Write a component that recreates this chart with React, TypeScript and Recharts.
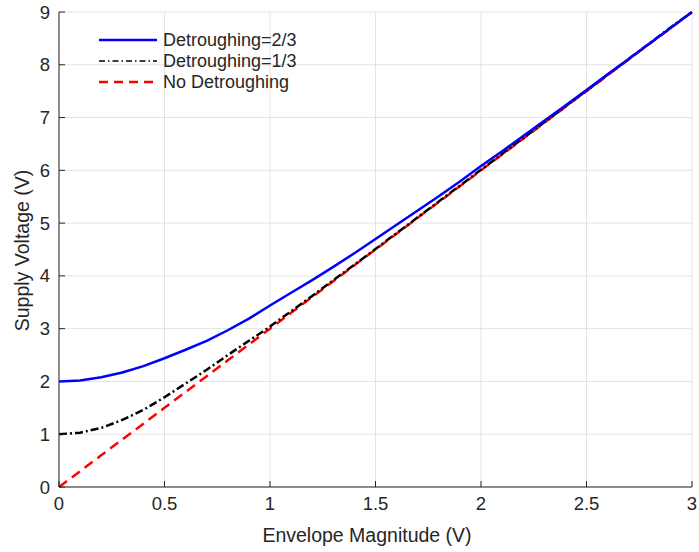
import React from "react";
import {
  LineChart,
  Line,
  XAxis,
  YAxis,
  CartesianGrid,
  Legend,
  Label,
} from "recharts";

// Envelope magnitude (V)
const envelope = [
  0, 0.1, 0.2, 0.3, 0.4, 0.5, 0.6, 0.7, 0.8, 0.9, 1.0, 1.1, 1.2, 1.3, 1.4, 1.5,
  1.6, 1.7, 1.8, 1.9, 2.0, 2.1, 2.2, 2.3, 2.4, 2.5, 2.6, 2.7, 2.8, 2.9, 3.0,
];

// Supply voltage (V)
const detrough23 = [
  2.0, 2.02, 2.08, 2.17, 2.29, 2.44, 2.6, 2.77, 2.97, 3.19, 3.44, 3.68, 3.92,
  4.17, 4.43, 4.7, 4.97, 5.24, 5.51, 5.79, 6.08, 6.36, 6.65, 6.94, 7.23, 7.52,
  7.82, 8.11, 8.41, 8.7, 9.0,
];
const detrough13 = [
  1.0, 1.03, 1.12, 1.27, 1.46, 1.7, 1.96, 2.22, 2.5, 2.77, 3.04, 3.33, 3.62,
  3.92, 4.21, 4.51, 4.81, 5.11, 5.41, 5.71, 6.01, 6.31, 6.61, 6.91, 7.21, 7.51,
  7.81, 8.11, 8.41, 8.71, 9.0,
];
const noDetrough = [
  0, 0.3, 0.6, 0.9, 1.2, 1.5, 1.8, 2.1, 2.4, 2.7, 3.0, 3.3, 3.6, 3.9, 4.2, 4.5,
  4.8, 5.1, 5.4, 5.7, 6.0, 6.3, 6.6, 6.9, 7.2, 7.5, 7.8, 8.1, 8.4, 8.7, 9.0,
];

const xTicks = [0, 0.5, 1, 1.5, 2, 2.5, 3];
const yTicks = [0, 1, 2, 3, 4, 5, 6, 7, 8, 9];

const legendItems = [
  { name: "Detroughing=2/3", color: "#0000ff", dash: undefined, width: 2.5 },
  { name: "Detroughing=1/3", color: "#000000", dash: "6 3 1.5 3", width: 1.5 },
  { name: "No Detroughing", color: "#ff0000", dash: "9 6", width: 2.5 },
];

const data = envelope.map((x, i) => ({
  x,
  d23: detrough23[i],
  d13: detrough13[i],
  none: noDetrough[i],
}));

const FONT = "'Liberation Sans', Arial, sans-serif";
const TEXT = "#262626";
const AXIS = "#262626";

function LegendBox() {
  return (
    <svg width={230} height={66} style={{ display: "block" }}>
      {legendItems.map((it, i) => {
        const y = 10 + i * 21;
        return (
          <g key={it.name}>
            <line
              x1={4}
              x2={62}
              y1={y}
              y2={y}
              stroke={it.color}
              strokeWidth={it.width}
              strokeDasharray={it.dash}
            />
            <text
              x={68}
              y={y}
              dy="0.35em"
              fontSize={18}
              fontFamily={FONT}
              fill={TEXT}
            >
              {it.name}
            </text>
          </g>
        );
      })}
    </svg>
  );
}

export default function App() {
  const tickStyle = { fontSize: 18.5, fontFamily: FONT, fill: TEXT };
  return (
    <div style={{ position: "absolute", left: 0, top: 0, background: "#fff" }}>
      <LineChart
        width={699}
        height={552}
        data={data}
        margin={{ top: 12, right: 7, left: 0, bottom: 25 }}
      >
        <CartesianGrid stroke="#e3e3e3" strokeWidth={1} />
        <XAxis
          dataKey="x"
          type="number"
          domain={[0, 3]}
          ticks={xTicks}
          height={40}
          stroke={AXIS}
          tickSize={-6}
          tickMargin={16}
          tick={tickStyle}
        >
          <Label
            content={({ viewBox }: any) => (
              <text
                x={367}
                y={viewBox.y + 55}
                textAnchor="middle"
                fontSize={19.5}
                fontFamily={FONT}
                fill={TEXT}
              >
                Envelope Magnitude (V)
              </text>
            )}
          />
        </XAxis>
        <XAxis
          xAxisId="top"
          orientation="top"
          type="number"
          domain={[0, 3]}
          ticks={xTicks}
          height={0}
          stroke={AXIS}
          tickSize={-6}
          tick={false}
        />
        <YAxis
          type="number"
          domain={[0, 9]}
          ticks={yTicks}
          width={59}
          stroke={AXIS}
          tickSize={-6}
          tickMargin={15}
          tick={tickStyle}
        >
          <Label
            content={({ viewBox }: any) => {
              const cx = 22;
              const cy = viewBox.y + viewBox.height / 2 + 1;
              return (
                <text
                  x={cx}
                  y={cy}
                  dy="0.35em"
                  textAnchor="middle"
                  transform={`rotate(-90 ${cx} ${cy})`}
                  fontSize={19.5}
                  fontFamily={FONT}
                  fill={TEXT}
                >
                  Supply Voltage (V)
                </text>
              );
            }}
          />
        </YAxis>
        <YAxis
          yAxisId="right"
          orientation="right"
          type="number"
          domain={[0, 9]}
          ticks={yTicks}
          width={0}
          stroke={AXIS}
          tickSize={-6}
          tick={false}
        />
        <Legend
          content={() => <LegendBox />}
          verticalAlign="middle"
          align="center"
          layout="horizontal"
          wrapperStyle={{ top: 30, left: 95, width: 230 }}
        />
        <Line
          type="linear"
          dataKey="none"
          stroke="#ff0000"
          strokeWidth={2.5}
          strokeDasharray="10 6"
          dot={false}
          isAnimationActive={false}
        />
        <Line
          type="linear"
          dataKey="d13"
          stroke="#000000"
          strokeWidth={2.5}
          strokeDasharray="8 3 2 3"
          dot={false}
          isAnimationActive={false}
        />
        <Line
          type="linear"
          dataKey="d23"
          stroke="#0000ff"
          strokeWidth={2.5}
          dot={false}
          isAnimationActive={false}
        />
      </LineChart>
    </div>
  );
}
